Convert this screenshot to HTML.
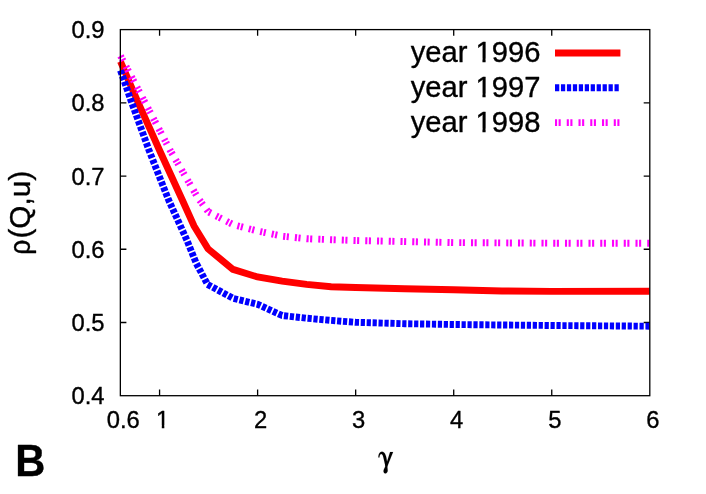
<!DOCTYPE html>
<html><head><meta charset="utf-8"><title>B</title>
<style>
html,body{margin:0;padding:0;background:#fff;}
body{width:706px;height:494px;overflow:hidden;position:relative;font-family:"Liberation Sans",sans-serif;}
</style></head><body>
<svg width="706" height="494" viewBox="0 0 706 494" style="position:absolute;left:0;top:0;will-change:transform">
<rect x="0" y="0" width="706" height="494" fill="#fff"/>
<g stroke="#000" stroke-width="1.3" fill="none">
<path d="M159.57 395.7V389.6M159.57 29.6V35.7"/>
<path d="M257.61 395.7V389.6M257.61 29.6V35.7"/>
<path d="M355.66 395.7V389.6M355.66 29.6V35.7"/>
<path d="M453.71 395.7V389.6M453.71 29.6V35.7"/>
<path d="M551.75 395.7V389.6M551.75 29.6V35.7"/>
<path d="M120.3 322.48H126.4M649.8 322.48H643.7"/>
<path d="M120.3 249.26H126.4M649.8 249.26H643.7"/>
<path d="M120.3 176.04H126.4M649.8 176.04H643.7"/>
<path d="M120.3 102.82H126.4M649.8 102.82H643.7"/>
</g>
<g fill="none" stroke-linejoin="miter" stroke-linecap="butt">
<polyline points="120.5,61.5 137.0,100.0 159.4,150.0 182.3,200.0 194.0,226.0 208.0,248.8 232.9,269.3 257.6,277.0 282.1,281.2 306.6,284.4 331.1,286.7 355.6,287.5 404.7,288.8 453.6,289.8 502.0,291.0 551.5,291.4 649.5,291.2" stroke="#ff0000" stroke-width="6.9"/>
<polyline points="120.5,70.4 130.8,100.0 148.9,150.0 168.6,200.0 186.8,240.0 196.1,262.9 207.5,284.4 233.2,298.4 257.6,304.3 282.1,315.5 306.6,318.2 331.1,320.4 355.6,322.3 404.7,323.7 453.6,324.5 551.5,325.5 649.5,326.2" stroke="#0000ff" stroke-width="6.9" stroke-dasharray="4.237 1.695"/>
<polyline points="120.5,55.9 170.0,150.0 198.0,198.0 208.2,211.8 233.2,224.7 257.6,231.0 282.1,236.2 306.6,238.7 331.1,239.7 355.6,240.5 453.6,242.6 551.5,243.2 649.5,243.3" stroke="#ff00ff" stroke-width="6.9" stroke-dasharray="2.1 1.5 2.1 6.05"/>
<line x1="555.0" x2="620.4" y1="53.0" y2="53.0" stroke="#ff0000" stroke-width="6.9"/>
<line x1="555.0" x2="620.4" y1="87.8" y2="87.8" stroke="#0000ff" stroke-width="6.9" stroke-dasharray="4.25 1.7"/>
<line x1="555.0" x2="620.4" y1="122.6" y2="122.6" stroke="#ff00ff" stroke-width="6.9" stroke-dasharray="2.1 1.5 2.1 6.05"/>
</g>
<rect x="120.35" y="29.60" width="529.45" height="366.10" fill="none" stroke="#000" stroke-width="1.3"/>
<g font-family="Liberation Sans, sans-serif" fill="#000" stroke="#000" stroke-width="0.35" stroke-linejoin="round">
<text transform="translate(104.5,404.3) scale(1.035,1)" font-size="23" text-anchor="end">0.4</text>
<text transform="translate(104.5,331.1) scale(1.035,1)" font-size="23" text-anchor="end">0.5</text>
<text transform="translate(104.5,257.9) scale(1.035,1)" font-size="23" text-anchor="end">0.6</text>
<text transform="translate(104.5,184.6) scale(1.035,1)" font-size="23" text-anchor="end">0.7</text>
<text transform="translate(104.5,111.4) scale(1.035,1)" font-size="23" text-anchor="end">0.8</text>
<text transform="translate(104.5,38.2) scale(1.035,1)" font-size="23" text-anchor="end">0.9</text>
<text transform="translate(123.3,428.3) scale(1.035,1)" font-size="23" text-anchor="middle">0.6</text>
<text transform="translate(162.6,428.3) scale(1.035,1)" font-size="23" text-anchor="middle">1</text>
<text transform="translate(260.6,428.3) scale(1.035,1)" font-size="23" text-anchor="middle">2</text>
<text transform="translate(358.7,428.3) scale(1.035,1)" font-size="23" text-anchor="middle">3</text>
<text transform="translate(456.7,428.3) scale(1.035,1)" font-size="23" text-anchor="middle">4</text>
<text transform="translate(554.8,428.3) scale(1.035,1)" font-size="23" text-anchor="middle">5</text>
<text transform="translate(652.8,428.3) scale(1.035,1)" font-size="23" text-anchor="middle">6</text>
<text x="540.5" y="62.2" font-size="29.2" text-anchor="end">year 1996</text>
<text x="540.5" y="97.0" font-size="29.2" text-anchor="end">year 1997</text>
<text x="540.5" y="131.8" font-size="29.2" text-anchor="end">year 1998</text>
<text transform="translate(15.2,476) scale(0.945,1)" font-size="44" font-weight="bold">B</text>
<text transform="translate(30.1,254.8) rotate(-90) scale(0.89,1)" font-size="29.7">ρ</text>
<text transform="translate(29.7,238.6) rotate(-90)" font-size="29.7">(Q,u)</text>
<path stroke-width="0.1" d="M378.4,457.4C378.4,454.3 379.5,451.7 381.9,451.7C384.5,451.7 385.7,454.3 386.4,457.8L387.4,464.0L385.4,466.2L383.8,459.2C383.2,456.2 382.6,453.9 381.3,453.9C380.2,453.9 379.6,455.2 379.4,457.4Z"/>
<path stroke-width="0.1" d="M390.1,451.9L393.1,451.9L387.3,466.5L385.5,466.5Z"/>
<path stroke-width="0.1" d="M385.6,465.0C385.3,467.3 383.5,469.3 383.5,471.1C383.5,472.6 384.2,473.4 385.3,473.4C386.6,473.4 387.7,472.5 387.7,470.6C387.7,468.6 387.2,467 387.2,465.0Z"/>
</g>
<g fill="#fff">
<rect x="476.3" y="58.7" width="6.15" height="4.6"/><rect x="485.6" y="58.7" width="5.7" height="4.6"/>
<rect x="476.3" y="93.7" width="6.15" height="4.6"/><rect x="485.6" y="93.7" width="5.7" height="4.6"/>
<rect x="476.3" y="128.7" width="6.15" height="4.6"/><rect x="485.6" y="128.7" width="5.7" height="4.6"/>
<rect x="156.5" y="425.5" width="5.28" height="3.6"/><rect x="164.32" y="425.5" width="5.4" height="3.6"/>
</g>
</svg>
</body></html>
